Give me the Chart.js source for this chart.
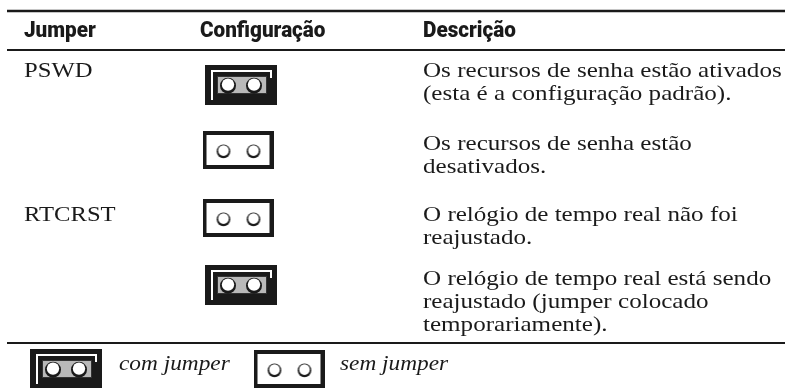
<!DOCTYPE html>
<html>
<head>
<meta charset="utf-8">
<script src="https://cdn.jsdelivr.net/npm/chart.js@4.4.0/dist/chart.umd.min.js"></script>
<style>
  body { margin: 0; background: #fff; }
  canvas { display: block; }
</style>
</head>
<body>
<canvas id="jumperChart" width="785" height="388"></canvas>
<script>
// Dados da tabela
const headers = ['Jumper', 'Configuração', 'Descrição'];
const jumpers = ['PSWD', '', 'RTCRST', ''];
const settings = ['com', 'sem', 'sem', 'com'];
const descriptions = [
    ['Os recursos de senha estão ativados', '(esta é a configuração padrão).'],
    ['Os recursos de senha estão', 'desativados.'],
    ['O relógio de tempo real não foi', 'reajustado.'],
    ['O relógio de tempo real está sendo', 'reajustado (jumper colocado', 'temporariamente).']
];
const legendKeys = ['com', 'sem'];
const legendLabels = ['com jumper', 'sem jumper'];

// Layout (em unidades da escala, 1 = 1px)
const colX = [24, 200, 423];
const headerY = 37;
const rowTextY = [77, 150, 221, 285];
const rowIconY = [85, 150, 218, 285];
const lineGap = 23;
const ruleYs = [11, 50, 343];
const legendIconX = [66, 289];
const legendTextX = [119, 340];
const legendY = 369;
const legendTextY = 370;

const INK = '#1a1a1a';
const serif = '"Liberation Serif", "Times New Roman", serif';
const heavy = 'Roboto, "Liberation Sans", sans-serif';

// Ícones dos jumpers
function makeJumpered() {
    const c = document.createElement('canvas');
    c.width = 72; c.height = 40;
    const g = c.getContext('2d');
    g.fillStyle = INK;
    g.fillRect(0, 0, 72, 40);
    g.strokeStyle = '#fff';
    g.lineWidth = 2;
    g.beginPath();
    g.moveTo(7, 35); g.lineTo(7, 6); g.lineTo(66, 6); g.lineTo(66, 13);
    g.stroke();
    g.fillStyle = '#b9b9b9';
    g.fillRect(12, 11, 50, 18);
    g.strokeStyle = '#333';
    g.lineWidth = 1;
    g.strokeRect(12.5, 11.5, 49, 17);
    [23, 49].forEach(cx => {
        g.fillStyle = INK;
        g.beginPath(); g.arc(cx, 20.7, 8, 0, Math.PI * 2); g.fill();
        g.fillStyle = '#fff';
        g.beginPath(); g.arc(cx, 19.6, 6.2, 0, Math.PI * 2); g.fill();
    });
    return c;
}

function makeOpen() {
    const c = document.createElement('canvas');
    c.width = 71; c.height = 38;
    const g = c.getContext('2d');
    g.fillStyle = INK;
    g.fillRect(0, 0, 71, 38);
    g.fillStyle = '#fff';
    g.fillRect(4, 4, 63, 30);
    [21, 51].forEach(cx => {
        g.fillStyle = INK;
        g.beginPath(); g.arc(cx, 20.4, 6.8, 0, Math.PI * 2); g.fill();
        g.fillStyle = '#fff';
        g.beginPath(); g.arc(cx, 19.6, 5.3, 0, Math.PI * 2); g.fill();
    });
    return c;
}

const icons = { com: makeJumpered(), sem: makeOpen() };
const iconX = { com: 241, sem: 238 };

const iconPoints = settings.map((s, i) => ({ x: iconX[s], y: rowIconY[i] }));
const legendPoints = legendKeys.map((s, i) => ({ x: legendIconX[i], y: legendY }));

const ruleSets = ruleYs.map((y, i) => ({
    type: 'line',
    data: [{ x: 7, y: y }, { x: 785, y: y }],
    borderColor: INK,
    borderWidth: i === 0 ? 2.6 : 2.2,
    pointRadius: 0,
    showLine: true
}));

// escreve texto com largura esticada/condensada
function drawText(ctx, text, px, py, sx) {
    ctx.save();
    ctx.translate(px, py);
    ctx.scale(sx, 1);
    ctx.fillText(text, 0, 0);
    ctx.restore();
}

// Textos da tabela desenhados pelas escalas
const tableText = {
    id: 'tableText',
    afterDatasetsDraw(chart) {
        const { ctx, scales: { x, y } } = chart;
        ctx.save();
        ctx.fillStyle = INK;
        ctx.textBaseline = 'alphabetic';

        ctx.font = '900 22px ' + heavy;
        headers.forEach((h, i) => drawText(ctx, h, x.getPixelForValue(colX[i]), y.getPixelForValue(headerY), 0.94));

        ctx.font = '22px ' + serif;
        jumpers.forEach((j, i) => {
            if (j) drawText(ctx, j, x.getPixelForValue(colX[0]), y.getPixelForValue(rowTextY[i]), 1.12);
        });
        descriptions.forEach((lines, i) => {
            lines.forEach((t, k) => {
                drawText(ctx, t, x.getPixelForValue(colX[2]), y.getPixelForValue(rowTextY[i] + k * lineGap), 1.14);
            });
        });

        ctx.font = 'italic 22px ' + serif;
        legendLabels.forEach((t, i) => drawText(ctx, t, x.getPixelForValue(legendTextX[i]), y.getPixelForValue(legendTextY), 1.06));
        ctx.restore();
    }
};

new Chart(document.getElementById('jumperChart'), {
    type: 'scatter',
    data: {
        datasets: [
            ...ruleSets,
            {
                data: iconPoints,
                pointStyle: settings.map(s => icons[s]),
                pointRadius: 20
            },
            {
                data: legendPoints,
                pointStyle: legendKeys.map(s => icons[s]),
                pointRadius: 20
            }
        ]
    },
    options: {
        responsive: false,
        animation: false,
        devicePixelRatio: 1,
        layout: { padding: 0, autoPadding: false },
        plugins: { legend: { display: false }, tooltip: { enabled: false } },
        scales: {
            x: { type: 'linear', min: 0, max: 785, display: false },
            y: { type: 'linear', min: 0, max: 388, reverse: true, display: false }
        }
    },
    plugins: [tableText]
});
</script>
</body>
</html>
